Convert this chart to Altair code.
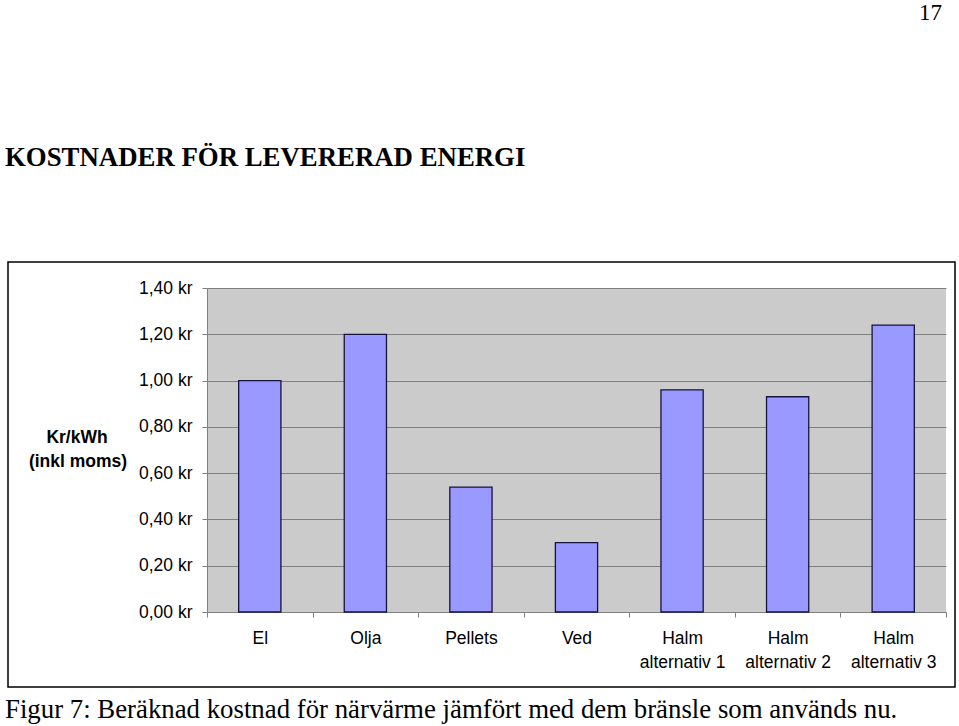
import altair as alt
import pandas as pd

categories = ["El", "Olja", "Pellets", "Ved",
              "Halm\nalternativ 1", "Halm\nalternativ 2", "Halm\nalternativ 3"]
values = [1.00, 1.20, 0.54, 0.30, 0.96, 0.93, 1.24]
y_ticks = [0.0, 0.2, 0.4, 0.6, 0.8, 1.0, 1.2, 1.4]

page_number = "17"
heading = "KOSTNADER FÖR LEVERERAD ENERGI"
y_title = ["Kr/kWh", "(inkl moms)"]
caption = "Figur 7: Beräknad kostnad för närvärme jämfört med dem bränsle som används nu."

df = pd.DataFrame({"kategori": categories, "kostnad": values})

W, H = 739, 324
L, T = 207, 288
SANS = "Liberation Sans"
SERIF = "Liberation Serif"


def one(s):
    return pd.DataFrame({"t": [s]})


bars = alt.Chart(df).mark_bar(
    width=alt.RelativeBandSize(0.4), fill="#9999FF", stroke="#14143c", strokeWidth=1.3
).encode(
    x=alt.X("kategori:N", sort=categories,
            scale=alt.Scale(paddingInner=0, paddingOuter=0),
            axis=alt.Axis(title=None, labelAngle=0, tickBand="extent", tickSize=5,
                          tickColor="#808080", domainColor="#808080",
                          labelExpr="split(datum.label, '\\n')",
                          labelFont=SANS, labelFontSize=17.5, labelColor="black",
                          labelLineHeight=24, labelPadding=12, labelBaseline="top")),
    y=alt.Y("kostnad:Q", scale=alt.Scale(domain=[0, 1.4], nice=False),
            axis=alt.Axis(values=y_ticks, title=None, grid=True, gridColor="#808080",
                          labelExpr="replace(format(datum.value, '.2f'), '.', ',') + ' kr'",
                          tickSize=5, tickColor="#808080", domainColor="#808080",
                          labelFont=SANS, labelFontSize=17.5, labelColor="black",
                          labelPadding=10)),
)

box = alt.Chart(one("")).mark_rect(fillOpacity=0, stroke="black", strokeWidth=1.5).encode(
    x=alt.value(8 - L), x2=alt.value(955 - L), y=alt.value(262 - T), y2=alt.value(687 - T)
)

t_page = alt.Chart(one(page_number)).mark_text(
    font=SERIF, fontSize=23, align="left", baseline="alphabetic", color="black"
).encode(x=alt.value(919 - L), y=alt.value(20 - T), text="t:N")

t_head = alt.Chart(one(heading)).mark_text(
    font=SERIF, fontSize=26.8, fontWeight="bold", align="left", baseline="alphabetic", color="black"
).encode(x=alt.value(5 - L), y=alt.value(166 - T), text="t:N")

t_y1 = alt.Chart(one(y_title[0])).mark_text(
    font=SANS, fontSize=17.5, fontWeight="bold", align="center", baseline="middle", color="black"
).encode(x=alt.value(77 - L), y=alt.value(438 - T), text="t:N")

t_y2 = alt.Chart(one(y_title[1])).mark_text(
    font=SANS, fontSize=17.5, fontWeight="bold", align="center", baseline="middle", color="black"
).encode(x=alt.value(78 - L), y=alt.value(462 - T), text="t:N")

t_cap = alt.Chart(one(caption)).mark_text(
    font=SERIF, fontSize=26.8, align="left", baseline="alphabetic", color="black"
).encode(x=alt.value(5 - L), y=alt.value(718 - T), text="t:N")

chart = alt.layer(box, bars, t_page, t_head, t_y1, t_y2, t_cap).properties(
    width=W, height=H,
    padding={"left": L, "top": T, "right": 959 - L - W, "bottom": 726 - T - H},
    autosize=alt.AutoSizeParams(type="none"),
    background="white",
).configure_view(fill="#cbcbcb", stroke=None)

chart.save("out.html", embed_options={"renderer": "svg", "actions": False})
